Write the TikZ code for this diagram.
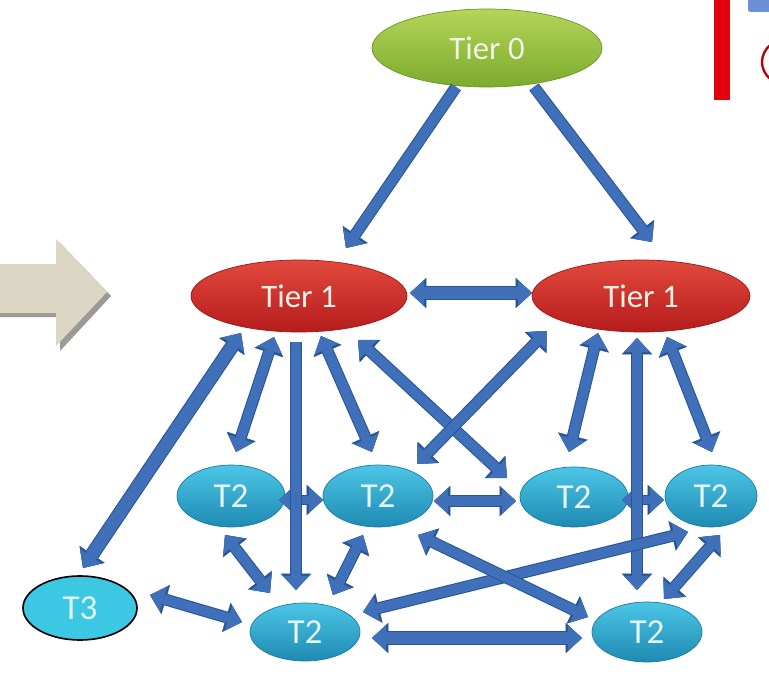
\documentclass[tikz,border=0pt]{standalone}
\usepackage{fontspec}
\setmainfont{Carlito}
\usetikzlibrary{shapes.geometric,arrows.meta,calc}

\definecolor{armain}{HTML}{3F70B9}
\definecolor{aredge}{HTML}{2A5594}
\definecolor{greentop}{HTML}{B3D55A}
\definecolor{greenbot}{HTML}{7CAB2C}
\definecolor{greenedge}{HTML}{6A9626}
\definecolor{redtop}{HTML}{E2493D}
\definecolor{redbot}{HTML}{B51C1C}
\definecolor{rededge}{HTML}{9E1616}
\definecolor{cyantop}{HTML}{4CC6E6}
\definecolor{cyanbot}{HTML}{1E8AB2}
\definecolor{cyanedge}{HTML}{1A7CA4}
\definecolor{tthree}{HTML}{3CC8E2}
\definecolor{labeltext}{HTML}{F4F2E4}
\definecolor{ttext}{HTML}{E2F5F7}
\definecolor{beige}{HTML}{DCD6C4}
\definecolor{beigeshadow}{HTML}{9C9A92}
\definecolor{barred}{HTML}{E3000F}
\definecolor{tabblue}{HTML}{6D8FD6}

\tikzset{
  tier/.style={ellipse, inner sep=0pt, text=labeltext,
    font=\fontsize{28}{28}\selectfont, line width=0.6pt},
  tiergreen/.style={tier, top color=greentop, bottom color=greenbot, draw=greenedge},
  tierred/.style={tier, top color=redtop, bottom color=redbot, draw=rededge},
  ttwo/.style={ellipse, inner sep=0pt, text=ttext,
    font=\fontsize{30}{30}\selectfont, line width=0.6pt,
    top color=cyantop, bottom color=cyanbot, draw=cyanedge},
  tthreenode/.style={ellipse, inner sep=0pt, text=ttext,
    font=\fontsize{30}{30}\selectfont, fill=tthree, draw=black, line width=1.4pt},
  % block arrows: a darker rim drawn first, the body on top
  both/.style={draw=armain, line width=#1,
    {Triangle[length=12pt,width=22pt,line width=0.3pt]}-{Triangle[length=12pt,width=22pt,line width=0.3pt]},
    preaction={draw=aredge, line width=#1+1.8pt,
      {Triangle[length=14pt,width=26pt,line width=0.3pt]}-{Triangle[length=14pt,width=26pt,line width=0.3pt]}}},
  both/.default=8.3pt,
  one/.style={draw=armain, line width=#1,
    -{Triangle[length=12pt,width=22pt,line width=0.3pt]},
    preaction={draw=aredge, line width=#1+1.8pt,
      -{Triangle[length=14pt,width=26pt,line width=0.3pt]}}},
  one/.default=8.3pt,
}

\begin{document}
\begin{tikzpicture}[x=0.03cm, y=-0.03cm]
\path[use as bounding box, fill=white] (0,0) rectangle (769,682);

% big pointer on the left edge
\fill[beigeshadow] (0,266) -- (60,266) -- (60,243) -- (111,296) -- (60,351) -- (60,317) -- (0,317) -- cycle;
\fill[beige] (0,264) -- (56,264) -- (56,239) -- (107,292) -- (56,346) -- (56,313) -- (0,313) -- cycle;

% fragments in the upper right corner
\fill[barred] (714,0) rectangle (730,100);
\fill[tabblue, rounded corners=2pt] (748,-6) rectangle (775,12);
\draw[barred!80!black, line width=2pt] (790,62) ellipse [x radius=28, y radius=24];

% nodes
\node[tiergreen, minimum width=6.9cm, minimum height=2.34cm] (t0) at (487,48) {Tier 0};
\node[tierred, minimum width=6.48cm, minimum height=2.16cm] (t1l) at (299,296) {Tier 1};
\node[tierred, minimum width=6.54cm, minimum height=2.16cm] (t1r) at (641,296) {Tier 1};

\node[ttwo, minimum width=3.24cm, minimum height=1.86cm] (a) at (231,496) {T2};
\node[ttwo, minimum width=3.3cm, minimum height=1.86cm] (b) at (378,496) {T2};
\node[ttwo, minimum width=3.24cm, minimum height=1.8cm] (c) at (574,497) {T2};
\node[ttwo, minimum width=2.76cm, minimum height=1.86cm] (d) at (711,496) {T2};
\node[ttwo, minimum width=3.3cm, minimum height=1.74cm] (bl) at (305,632) {T2};
\node[ttwo, minimum width=3.3cm, minimum height=1.8cm] (br) at (647,632) {T2};
\node[tthreenode, minimum width=3.42cm, minimum height=1.92cm] (t3) at (80,608) {T3};

% links from the root
\draw[one] ($(t0.center)+(-31,39)$) -- ($(t1l.center)+(47,-48)$);
\draw[one] ($(t0.center)+(47,39)$) -- ($(t1r.center)+(11,-54)$);
\draw[both=10.5pt] ($(t1l.center)+(111,-3)$) -- ($(t1r.center)+(-109,-3)$);

% horizontal links in the middle row
\draw[both=7.5pt] ($(a.center)+(48,4)$) -- ($(b.center)+(-55,4)$);
\draw[both] ($(b.center)+(56,5)$) -- ($(c.center)+(-58,4)$);
\draw[both=7.5pt] ($(c.center)+(48,3)$) -- ($(d.center)+(-47,4)$);

% links from the left tier 1
\draw[both=10.5pt] ($(t1l.center)+(-58,37)$) -- ($(t3.center)+(3,-40)$);
\draw[both] ($(t1l.center)+(-25,41)$) -- ($(a.center)+(5,-44)$);
\draw[one] ($(t1l.center)+(-3,46)$) -- ($(bl.center)+(-9,-42)$);
\draw[both] ($(t1l.center)+(22,40)$) -- ($(b.center)+(-6,-44)$);
\draw[both] ($(t1l.center)+(59,44)$) -- ($(c.center)+(-67,-19)$);

% links from the right tier 1
\draw[both] ($(t1r.center)+(-94,35)$) -- ($(b.center)+(39,-32)$);
\draw[both] ($(t1r.center)+(-43,37)$) -- ($(c.center)+(-5,-45)$);
\draw[both] ($(t1r.center)+(-4,42)$) -- ($(br.center)+(-10,-42)$);
\draw[both] ($(t1r.center)+(26,41)$) -- ($(d.center)+(1,-44)$);

% links towards the bottom row
\draw[both] ($(a.center)+(-6,39)$) -- ($(bl.center)+(-35,-39)$);
\draw[both] ($(b.center)+(-15,39)$) -- ($(bl.center)+(28,-37)$);
\draw[both] ($(t3.center)+(70,-13)$) -- ($(bl.center)+(-63,-10)$);
\draw[both] ($(bl.center)+(58,-20)$) -- ($(d.center)+(-23,36)$);
\draw[both] ($(b.center)+(40,39)$) -- ($(br.center)+(-59,-15)$);
\draw[both] ($(d.center)+(9,39)$) -- ($(br.center)+(17,-33)$);
\draw[both=10.5pt] ($(bl.center)+(67,6)$) -- ($(br.center)+(-65,6)$);
\end{tikzpicture}
\end{document}
